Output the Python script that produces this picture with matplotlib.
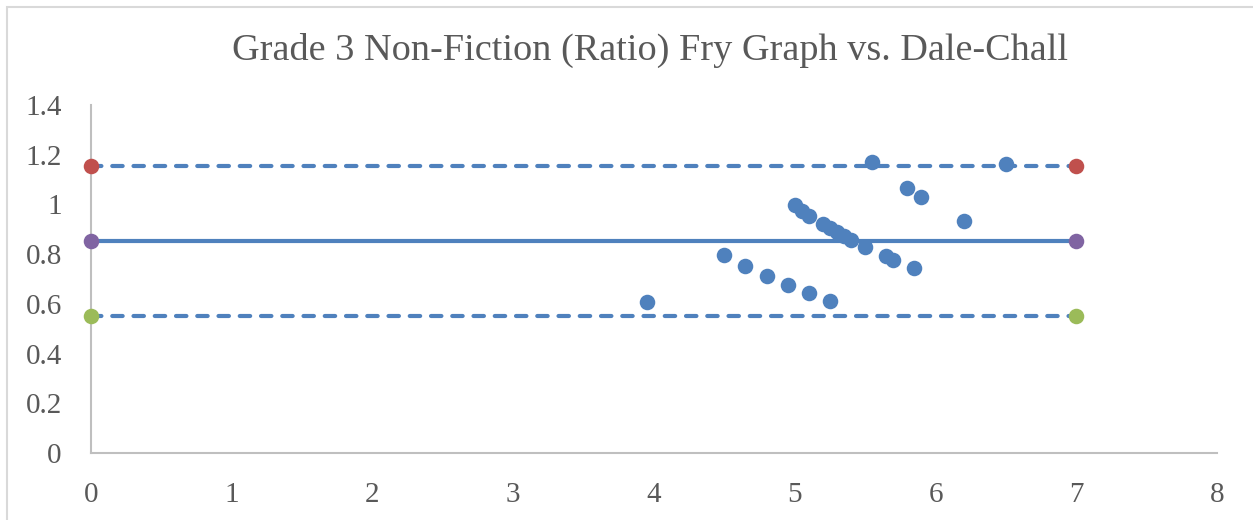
import matplotlib
matplotlib.use('Agg')
from matplotlib import pyplot as plt
from matplotlib.patches import Rectangle

# scatter points (Fry graph ratio vs Dale-Chall)
dale_chall = [3.95, 4.5, 4.65, 4.8, 4.95, 5.1, 5.25,
              5.0, 5.05, 5.1, 5.2, 5.25, 5.3, 5.35, 5.4, 5.5,
              5.55, 5.65, 5.7, 5.85, 5.8, 5.9, 6.2, 6.5]
ratio = [0.609, 0.796, 0.752, 0.712, 0.674, 0.642, 0.611,
         0.996, 0.975, 0.955, 0.921, 0.904, 0.888, 0.873, 0.857, 0.830,
         1.172, 0.791, 0.776, 0.743, 1.067, 1.031, 0.934, 1.163]

# mean and limits
limit_x = [0, 7]
mean_y = [0.853, 0.853]
upper_y = [1.156, 1.156]
lower_y = [0.551, 0.551]

blue = '#4F81BD'
grey = '#595959'
plt.rcParams['font.family'] = ['Liberation Serif', 'DejaVu Serif']

fig = plt.figure(figsize=(12.53, 5.2), dpi=100)
fig.patches.append(Rectangle((7 / 1253, -0.1), 1.2, 1 - 7 / 520 + 0.1, transform=fig.transFigure,
                             fill=False, edgecolor='#D9D9D9', linewidth=1.5))
ax = fig.add_axes([91 / 1253, 1 - 453 / 520, (1217 - 91) / 1253, (453 - 105) / 520])

ax.plot(limit_x, upper_y, color=blue, lw=3, dashes=(2.5, 2.6), dash_capstyle='round', zorder=2)
ax.plot(limit_x, lower_y, color=blue, lw=3, dashes=(2.5, 2.6), dash_capstyle='round', zorder=2)
ax.plot(limit_x, mean_y, color=blue, lw=3, zorder=2)
ax.scatter(limit_x, upper_y, s=125, color='#C0504D', zorder=3, linewidths=0, clip_on=False)
ax.scatter(limit_x, mean_y, s=125, color='#8064A2', zorder=3, linewidths=0, clip_on=False)
ax.scatter(limit_x, lower_y, s=125, color='#9BBB59', zorder=3, linewidths=0, clip_on=False)
ax.scatter(dale_chall, ratio, s=125, color=blue, zorder=4, linewidths=0, clip_on=False)

ax.set_xlim(0, 8)
ax.set_ylim(0, 1.4)
ax.set_xticks(range(0, 9))
ax.set_yticks([0, 0.2, 0.4, 0.6, 0.8, 1, 1.2, 1.4])
ax.set_yticklabels(['0', '0.2', '0.4', '0.6', '0.8', '1', '1.2', '1.4'])
ax.tick_params(length=0, labelsize=21, colors=grey)
ax.tick_params(axis='x', pad=21)
ax.tick_params(axis='y', pad=21)
for s in ['top', 'right']:
    ax.spines[s].set_visible(False)
for s in ['left', 'bottom']:
    ax.spines[s].set_color('#BFBFBF')
    ax.spines[s].set_linewidth(1.5)

fig.text(650 / 1253, 1 - 50 / 520, 'Grade 3 Non-Fiction (Ratio) Fry Graph vs. Dale-Chall',
         ha='center', va='center', fontsize=27.5, color=grey)

fig.savefig('out.png', dpi=100)
